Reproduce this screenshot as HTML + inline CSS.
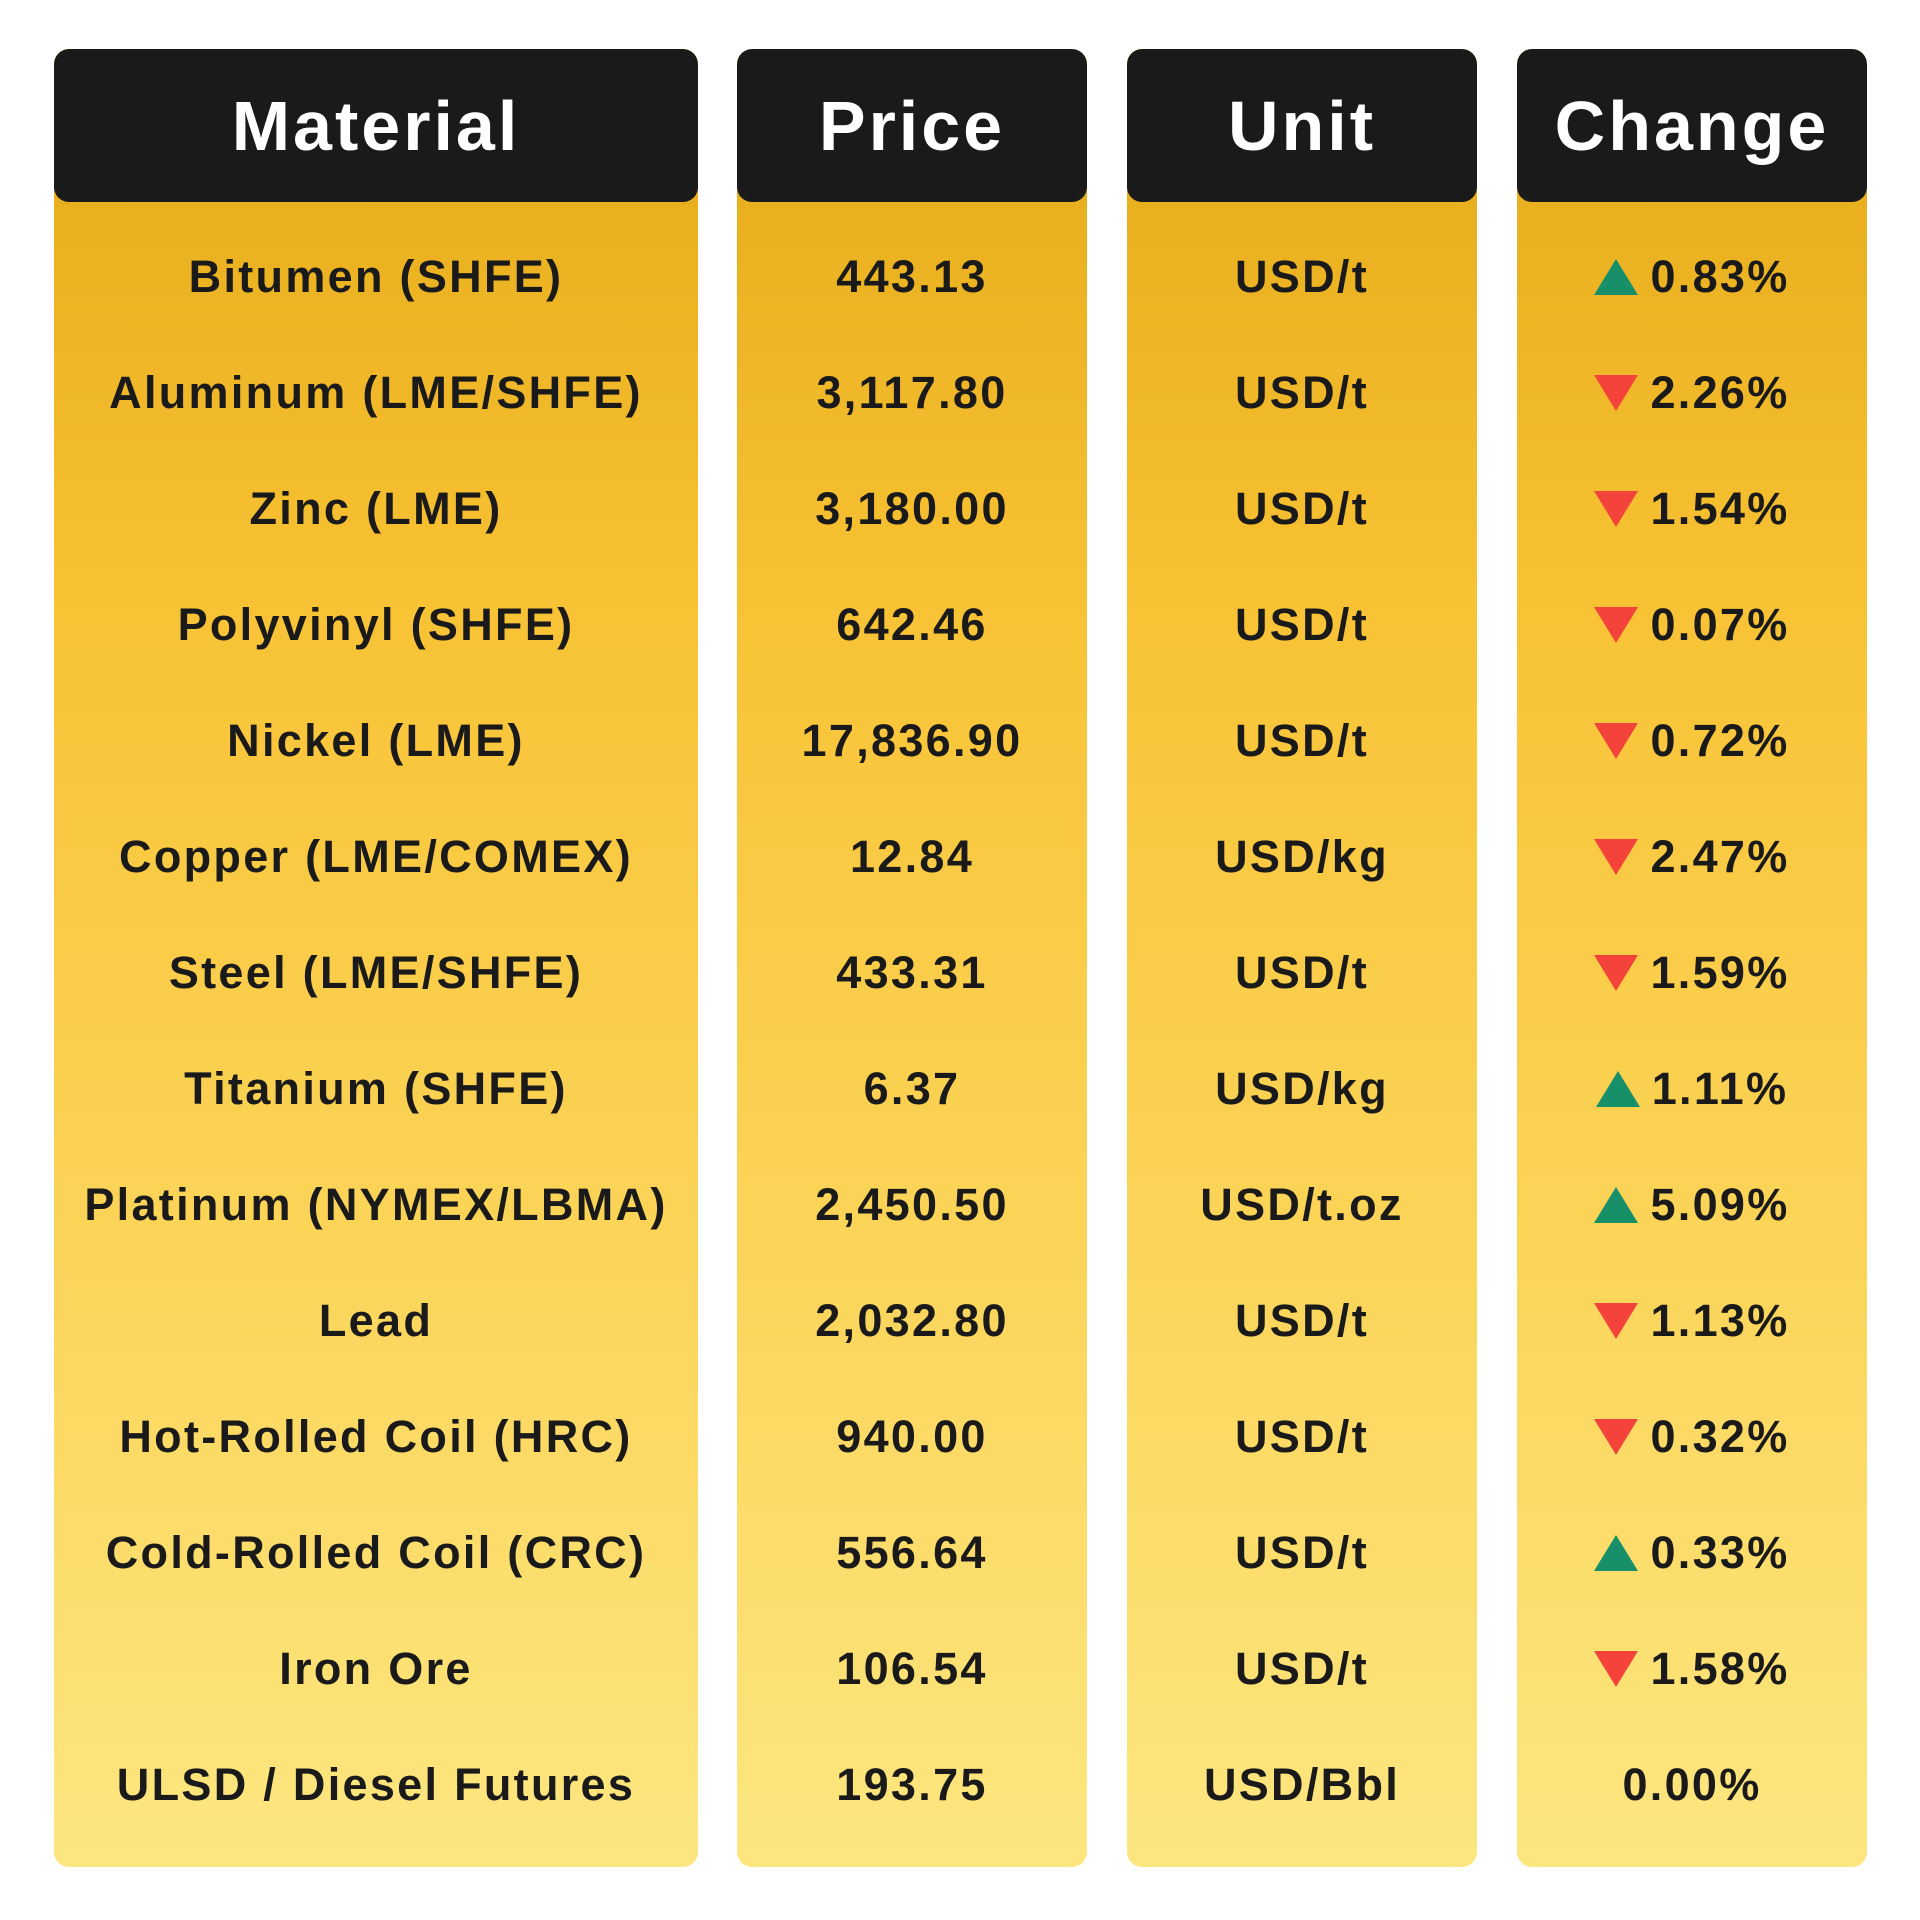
<!DOCTYPE html>
<html><head><meta charset="utf-8"><style>
body{margin:0;width:1920px;height:1920px;background:#fff;position:relative;font-family:"Liberation Sans",sans-serif;color:#1a1a1a}
.col{position:absolute;top:49px;height:1818px;border-radius:15px;overflow:hidden;background:linear-gradient(#e3a816 0%,#f8c234 30%,#fbd458 65%,#fde680 100%)}
.hd{height:153px;background:#1a1a1a;color:#fff;font-weight:bold;font-size:70px;letter-spacing:3px;display:flex;align-items:center;justify-content:center;border-radius:15px}
.r{position:absolute;left:0;right:0;height:116px;display:flex;align-items:center;justify-content:center;font-weight:bold;font-size:45px;letter-spacing:2.3px}
.up{width:0;height:0;border-left:22px solid transparent;border-right:22px solid transparent;border-bottom:36px solid #17906a;margin-right:12px}
.dn{width:0;height:0;border-left:22px solid transparent;border-right:22px solid transparent;border-top:36px solid #f4433a;margin-right:12px}
</style></head><body>
<div class="col" style="left:54px;width:644px"><div class="hd">Material</div>
<div class="r" style="top:170px">Bitumen (SHFE)</div>
<div class="r" style="top:286px">Aluminum (LME/SHFE)</div>
<div class="r" style="top:402px">Zinc (LME)</div>
<div class="r" style="top:518px">Polyvinyl (SHFE)</div>
<div class="r" style="top:634px">Nickel (LME)</div>
<div class="r" style="top:750px">Copper (LME/COMEX)</div>
<div class="r" style="top:866px">Steel (LME/SHFE)</div>
<div class="r" style="top:982px">Titanium (SHFE)</div>
<div class="r" style="top:1098px">Platinum (NYMEX/LBMA)</div>
<div class="r" style="top:1214px">Lead</div>
<div class="r" style="top:1330px">Hot-Rolled Coil (HRC)</div>
<div class="r" style="top:1446px">Cold-Rolled Coil (CRC)</div>
<div class="r" style="top:1562px">Iron Ore</div>
<div class="r" style="top:1678px">ULSD / Diesel Futures</div>
</div>
<div class="col" style="left:737px;width:350px"><div class="hd">Price</div>
<div class="r" style="top:170px">443.13</div>
<div class="r" style="top:286px">3,117.80</div>
<div class="r" style="top:402px">3,180.00</div>
<div class="r" style="top:518px">642.46</div>
<div class="r" style="top:634px">17,836.90</div>
<div class="r" style="top:750px">12.84</div>
<div class="r" style="top:866px">433.31</div>
<div class="r" style="top:982px">6.37</div>
<div class="r" style="top:1098px">2,450.50</div>
<div class="r" style="top:1214px">2,032.80</div>
<div class="r" style="top:1330px">940.00</div>
<div class="r" style="top:1446px">556.64</div>
<div class="r" style="top:1562px">106.54</div>
<div class="r" style="top:1678px">193.75</div>
</div>
<div class="col" style="left:1127px;width:350px"><div class="hd">Unit</div>
<div class="r" style="top:170px">USD/t</div>
<div class="r" style="top:286px">USD/t</div>
<div class="r" style="top:402px">USD/t</div>
<div class="r" style="top:518px">USD/t</div>
<div class="r" style="top:634px">USD/t</div>
<div class="r" style="top:750px">USD/kg</div>
<div class="r" style="top:866px">USD/t</div>
<div class="r" style="top:982px">USD/kg</div>
<div class="r" style="top:1098px">USD/t.oz</div>
<div class="r" style="top:1214px">USD/t</div>
<div class="r" style="top:1330px">USD/t</div>
<div class="r" style="top:1446px">USD/t</div>
<div class="r" style="top:1562px">USD/t</div>
<div class="r" style="top:1678px">USD/Bbl</div>
</div>
<div class="col" style="left:1517px;width:350px"><div class="hd">Change</div>
<div class="r" style="top:170px"><span class="up"></span>0.83%</div>
<div class="r" style="top:286px"><span class="dn"></span>2.26%</div>
<div class="r" style="top:402px"><span class="dn"></span>1.54%</div>
<div class="r" style="top:518px"><span class="dn"></span>0.07%</div>
<div class="r" style="top:634px"><span class="dn"></span>0.72%</div>
<div class="r" style="top:750px"><span class="dn"></span>2.47%</div>
<div class="r" style="top:866px"><span class="dn"></span>1.59%</div>
<div class="r" style="top:982px"><span class="up"></span>1.11%</div>
<div class="r" style="top:1098px"><span class="up"></span>5.09%</div>
<div class="r" style="top:1214px"><span class="dn"></span>1.13%</div>
<div class="r" style="top:1330px"><span class="dn"></span>0.32%</div>
<div class="r" style="top:1446px"><span class="up"></span>0.33%</div>
<div class="r" style="top:1562px"><span class="dn"></span>1.58%</div>
<div class="r" style="top:1678px">0.00%</div>
</div>
</body></html>
